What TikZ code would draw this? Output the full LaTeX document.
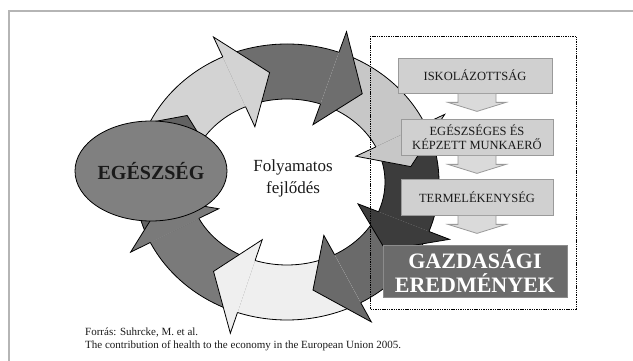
\documentclass[tikz,border=0pt]{standalone}
\usepackage{fontspec}
\setmainfont{Liberation Serif}
\usetikzlibrary{shapes.geometric}
\definecolor{framegray}{HTML}{B5B5B5}
\definecolor{segA}{HTML}{D3D3D3}
\definecolor{segB}{HTML}{6E6E6E}
\definecolor{segC}{HTML}{C7C7C7}
\definecolor{segD}{HTML}{3C3C3C}
\definecolor{segE}{HTML}{6A6A6A}
\definecolor{segF}{HTML}{EFEFEF}
\definecolor{segG}{HTML}{7A7A7A}
\definecolor{segH}{HTML}{626262}
\definecolor{ellgray}{HTML}{808080}
\definecolor{boxfill}{HTML}{D0D0D0}
\definecolor{boxline}{HTML}{9A9A9A}
\definecolor{arrfill}{HTML}{DADADA}
\definecolor{darkbox}{HTML}{6B6B6B}
\definecolor{darkline}{HTML}{8C8C8C}
\definecolor{txt}{HTML}{1A1A1A}
\tikzset{
  ringline/.style={draw=black, line width=0.8pt, line join=miter},
  lbox/.style={draw=boxline, fill=boxfill, line width=0.8pt, inner sep=0pt, align=center,
    text=txt, font=\fontsize{12.5}{14}\selectfont},
  gbox/.style={draw=darkline, fill=darkbox, line width=0.8pt, inner sep=0pt, align=center,
    text=white, font=\bfseries\fontsize{22}{24}\selectfont},
  barrow/.style={draw=boxline, fill=arrfill, line width=0.8pt, line join=miter},
  dashbox/.style={draw=black, line width=0.7pt, dash pattern=on 1.4pt off 0.9pt},
  srctext/.style={anchor=west, inner sep=0pt, text=txt, font=\fontsize{11}{13}\selectfont}
}
\begin{document}
\begin{tikzpicture}[x=1pt,y=1pt]
\useasboundingbox (0,0) rectangle (633,361);
% outer frame
\draw[line width=2.6pt, framegray] (9,0) -- (9,350) -- (633,350);

% ring of arrows
\begin{scope}[shift={(287,179)}]
  \foreach \tz/\tb/\col in {160/115/segA, 115/70/segB, 70/25/segC, 25/-21/segD,
                            -21/-61/segE, -61/-109/segF, -109/-154/segG, -154/-200/segH} {
    \fill[\col] (\tz:152pt and 138pt)
      arc[start angle=\tz, end angle=\tb, x radius=152pt, y radius=138pt]
      -- (\tb:98pt and 83pt)
      arc[start angle=\tb, end angle=\tz, x radius=98pt, y radius=83pt] -- cycle;
  }
  \draw[ringline] (0,0) ellipse [x radius=152pt, y radius=138pt];
  \draw[ringline] (0,0) ellipse [x radius=98pt, y radius=83pt];
  \foreach \tz/\tb/\col in {160/115/segA, 115/70/segB, 70/25/segC, 25/-21/segD,
                            -21/-61/segE, -61/-109/segF, -109/-154/segG, -154/-200/segH} {
    \filldraw[ringline, fill=\col] (\tb:152pt and 138pt) -- (\tb:174pt and 160pt)
      -- ({\tb-17}:125pt and 110.5pt) -- (\tb:76pt and 61pt) -- (\tb:98pt and 83pt);
  }
\end{scope}

% boxes on the right
\node[lbox, minimum width=154pt, minimum height=35pt] (b1) at (475,285.5) {ISKOLÁZOTTSÁG};
\node[lbox, minimum width=152pt, minimum height=36pt] (b2) at (477,224) {EGÉSZSÉGES ÉS\\KÉPZETT MUNKAERŐ};
\node[lbox, minimum width=152pt, minimum height=36pt] (b3) at (477,164) {TERMELÉKENYSÉG};
\node[gbox, minimum width=184pt, minimum height=52pt] (b4) at (475,90) {GAZDASÁGI\\EREDMÉNYEK};

% block arrows between the boxes
\foreach \bx/\dx in {b1/2, b2/0, b3/0} {
  \filldraw[barrow]
    ([xshift={\dx-19}, yshift=-0.5]\bx.south) -- ([xshift={\dx-19}, yshift=-9]\bx.south)
    -- ([xshift={\dx-29}, yshift=-9]\bx.south) -- ([xshift=\dx, yshift=-18]\bx.south)
    -- ([xshift={\dx+29}, yshift=-9]\bx.south) -- ([xshift={\dx+19}, yshift=-9]\bx.south)
    -- ([xshift={\dx+19}, yshift=-0.5]\bx.south);
}

% dashed frame
\draw[dashbox] (370,325) rectangle (576,52);

% health ellipse
\node[ellipse, draw=black, line width=0.8pt, fill=ellgray, minimum width=152pt,
      minimum height=100pt, inner sep=0pt, text=txt,
      font=\bfseries\fontsize{20}{22}\selectfont] (eg) at (151,190) {EGÉSZSÉG};

% centre text
\node[align=center, text=txt, font=\fontsize{17}{22}\selectfont] (fj) at (293,183) {Folyamatos\\fejlődés};

% source
\node[srctext] (src1) at (85,28) {Forrás: Suhrcke, M. et al.};
\node[srctext] (src2) at (85,15) {The contribution of health to the economy in the European Union 2005.};
\end{tikzpicture}
\end{document}
